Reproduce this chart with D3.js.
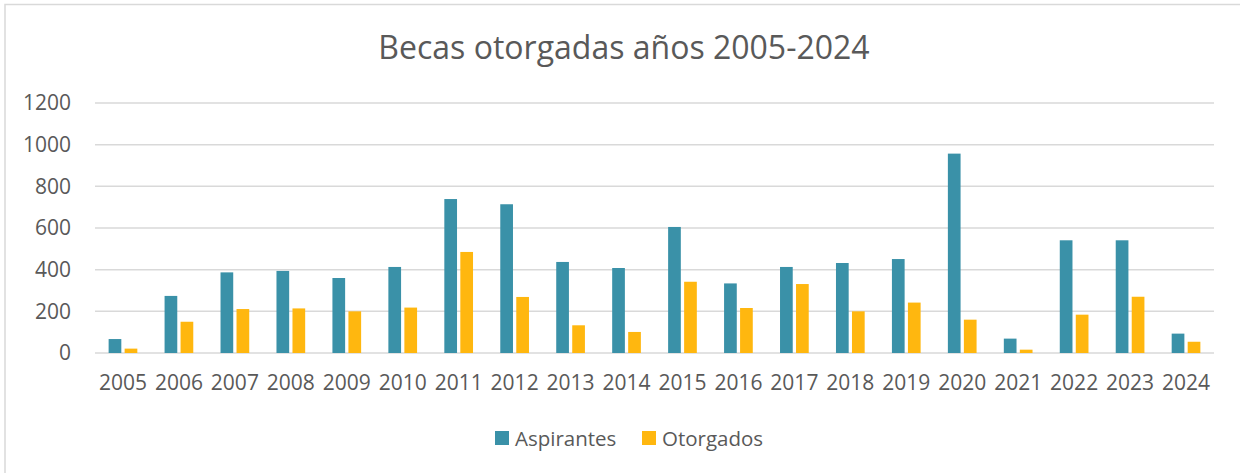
<!DOCTYPE html>
<html>
<head>
<meta charset="utf-8">
<script src="https://cdn.jsdelivr.net/npm/d3@7"></script>
<style>
  body { margin: 0; background: #fff; }
  text { font-family: "Open Sans", "Noto Sans", sans-serif; fill: #595959; }
</style>
</head>
<body>
<svg id="chart" width="1240" height="473"></svg>
<script>
var years = ["2005","2006","2007","2008","2009","2010","2011","2012","2013","2014",
             "2015","2016","2017","2018","2019","2020","2021","2022","2023","2024"];
var aspirantes = [67, 274, 387, 394, 360, 413, 739, 714, 437, 408,
                  605, 334, 413, 432, 451, 957, 69, 541, 541, 93];
var otorgados = [21, 150, 211, 214, 200, 218, 485, 269, 133, 101,
                 342, 216, 331, 200, 242, 160, 16, 184, 270, 54];
var seriesNames = ["Aspirantes", "Otorgados"];
var seriesColors = ["#3A91A8", "#FFB70F"];
var yTicks = [0, 200, 400, 600, 800, 1000, 1200];

var svg = d3.select("#chart"),
    margin = {top: 103, right: 26, bottom: 120, left: 95},
    width = 1240 - margin.left - margin.right,
    height = 473 - margin.top - margin.bottom;

// chart border (only top and left edges show in the frame)
svg.append("rect")
    .attr("x", 5).attr("y", 4.5)
    .attr("width", 1260).attr("height", 500)
    .attr("fill", "none")
    .attr("stroke", "#d9d9d9")
    .attr("stroke-width", 1.5);

svg.append("text")
    .attr("x", 624)
    .attr("y", 59)
    .attr("text-anchor", "middle")
    .style("font-size", "32px")
    .text("Becas otorgadas años 2005-2024");

var g = svg.append("g").attr("transform", "translate(" + margin.left + "," + margin.top + ")");

var x = d3.scaleBand().domain(years).range([0, width]).paddingInner(0).paddingOuter(0);
var y = d3.scaleLinear().domain([0, 1200]).range([height, 0]);

var data = years.map(function(d, i) { return {year: d, values: [aspirantes[i], otorgados[i]]}; });

// gridlines
g.append("g")
  .selectAll("line")
  .data(yTicks)
  .enter().append("line")
    .attr("x1", 0).attr("x2", width)
    .attr("y1", function(d) { return y(d); })
    .attr("y2", function(d) { return y(d); })
    .attr("stroke", "#d9d9d9")
    .attr("stroke-width", 1.5);

// y axis labels
var yAxis = g.append("g")
    .attr("transform", "translate(-24,0)")
    .call(d3.axisLeft(y).tickValues(yTicks).tickFormat(d3.format("d")).tickSize(0).tickPadding(0));
yAxis.select(".domain").remove();
yAxis.selectAll("text").style("font-size", "21px").attr("fill", "#595959");

// x axis labels
var xAxis = g.append("g")
    .attr("transform", "translate(0," + height + ")")
    .call(d3.axisBottom(x).tickSize(0).tickPadding(22));
xAxis.select(".domain").remove();
xAxis.selectAll("text").style("font-size", "21px").attr("fill", "#595959");

var barW = 12.7, gap = 3.3;
var groups = g.selectAll(".year")
  .data(data)
  .enter().append("g")
    .attr("transform", function(d) { return "translate(" + (x(d.year) + x.bandwidth() / 2) + ",0)"; });

groups.selectAll("rect")
  .data(function(d) { return d.values; })
  .enter().append("rect")
    .attr("x", function(d, i) { return i === 0 ? -gap / 2 - barW : gap / 2; })
    .attr("y", function(d) { return y(d); })
    .attr("width", barW)
    .attr("height", function(d) { return y(0) - y(d); })
    .attr("fill", function(d, i) { return seriesColors[i]; });

// legend
var legend = svg.append("g").attr("transform", "translate(495,431)");
var legendX = [0, 147];
seriesNames.forEach(function(name, i) {
  var item = legend.append("g").attr("transform", "translate(" + legendX[i] + ",0)");
  item.append("rect").attr("width", 14).attr("height", 14).attr("fill", seriesColors[i]);
  item.append("text").attr("x", 20).attr("y", 14.5).style("font-size", "20.5px").text(name);
});
</script>
</body>
</html>
